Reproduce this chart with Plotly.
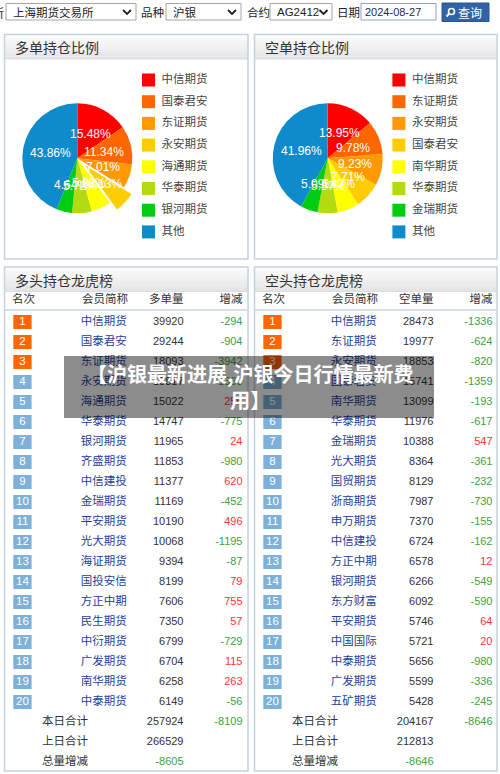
import math
import plotly.graph_objects as go

# ---------------- data ----------------
long_names = ["中信期货", "国泰君安", "东证期货", "永安期货", "海通期货", "华泰期货", "银河期货",
              "齐盛期货", "中信建投", "金瑞期货", "平安期货", "光大期货", "海证期货", "国投安信",
              "方正中期", "民生期货", "中衍期货", "广发期货", "南华期货", "中泰期货"]
long_vol = [39920, 29244, 18093, 15817, 15022, 14747, 11965, 11853, 11377, 11169,
            10190, 10068, 9394, 8199, 7606, 7350, 6799, 6704, 6258, 6149]
long_chg = [-294, -904, -3942, -1360, 256, -775, 24, -980, 620, -452,
            496, -1195, -87, 79, 755, 57, -729, 115, 263, -56]
long_today_total = 257924
long_today_chg = -8109
long_prev_total = 266529
long_total_chg = -8605

short_names = ["中信期货", "东证期货", "永安期货", "国泰君安", "南华期货", "华泰期货", "金瑞期货",
               "光大期货", "国贸期货", "浙商期货", "申万期货", "中信建投", "方正中期", "银河期货",
               "东方财富", "平安期货", "中国国际", "中泰期货", "广发期货", "五矿期货"]
short_vol = [28473, 19977, 18853, 15741, 13099, 11976, 10388, 8364, 8129, 7987,
             7370, 6724, 6578, 6266, 6092, 5746, 5721, 5656, 5599, 5428]
short_chg = [-1336, -624, -820, -1359, -193, -617, 547, -361, -232, -730,
             -155, -162, 12, -549, -590, 64, 20, -980, -336, -245]
short_today_total = 204167
short_today_chg = -8646
short_prev_total = 212813
short_total_chg = -8646

pie_top_n = 7
other_label = "其他"
pie_colors = ["#FF0000", "#FF6600", "#FF9900", "#FFCC00", "#FFFF00", "#B3DA12", "#00CC11", "#0F8BCB"]

title_text = "【沪银最新进展,沪银今日行情最新费<br>用】"

# ---------------- styling constants ----------------
W, H = 500, 774
FONT = "Liberation Sans, Arial, Noto Sans CJK SC, sans-serif"
CJK = "Noto Sans CJK SC, sans-serif"
BORDER = "#C3D2E0"
NAME_C = "#1F3E97"
NUM_C = "#333333"
GREEN = "#3DA23D"
RED = "#FF3333"

fig = go.Figure()
shapes = []
annotations = []


def T(xs, ys, texts, color, pos, size=11, family=FONT):
    return go.Scatter(x=xs, y=ys, text=texts, mode="text", textposition=pos,
                      textfont=dict(color=color, size=size, family=family),
                      hoverinfo="skip", showlegend=False, cliponaxis=False)


def chg_color(v):
    return RED if v > 0 else GREEN


# ---------------- pies ----------------
def pie_data(names, vols):
    labels = names[:pie_top_n] + [other_label]
    values = vols[:pie_top_n] + [sum(vols[pie_top_n:])]
    return labels, values


R = 55
OFFSET = 10  # selected-slice offset in px
pies = [
    (long_names, long_vol, 77.3, [False, False, False, True, False, False, False, False]),
    (short_names, short_vol, 327.7, [False] * 8),
]
cy = 158.3
for names, vols, cx, selected in pies:
    labels, values = pie_data(names, vols)
    pull = [OFFSET / R if s else 0 for s in selected]
    half = R * (1 + max(pull))
    fig.add_trace(go.Pie(
        labels=labels, values=values, sort=False, direction="clockwise", rotation=0,
        marker=dict(colors=pie_colors, line=dict(width=0)), pull=pull,
        textinfo="none",
        domain=dict(x=[(cx - half) / W, (cx + half) / W],
                    y=[1 - (cy + half) / H, 1 - (cy - half) / H]),
        showlegend=False, hoverinfo="skip"))
    # inner labels at half radius along each slice's middle angle
    total = sum(values)
    cum = 0
    for v, s in zip(values, selected):
        mid = 2 * math.pi * (cum + v / 2) / total
        cum += v
        r = R / 2 + (OFFSET if s else 0)
        annotations.append(dict(xref="x", yref="y", x=cx + r * math.sin(mid), y=cy - r * math.cos(mid),
                                text=f"{100 * v / total:.2f}%", showarrow=False,
                                xanchor="center", yanchor="middle",
                                font=dict(family=FONT, size=12, color="white")))

# legends
leg_y = [80 + 21.7 * k for k in range(pie_top_n + 1)]
for names, vols, cx, _ in pies:
    labels, _v = pie_data(names, vols)
    lx = cx + 71.2
    fig.add_trace(go.Scatter(x=[lx] * len(labels), y=leg_y, mode="markers",
                             marker=dict(symbol="square", size=13, color=pie_colors),
                             hoverinfo="skip", showlegend=False))
    fig.add_trace(T([lx + 13] * len(labels), leg_y, labels, "#444444", "middle right", 11.5, CJK))

# ---------------- tables ----------------
row_y = [322 + 20 * i for i in range(20)]
tot_y = [722, 742, 762]
tables = [
    (0, long_names, long_vol, long_chg, "多单量",
     [long_today_total, long_prev_total, long_total_chg], long_today_chg),
    (250, short_names, short_vol, short_chg, "空单量",
     [short_today_total, short_prev_total, short_total_chg], short_today_chg),
]
for off, names, vols, chgs, qlabel, tots, tchg in tables:
    ranks = list(range(1, 21))
    fig.add_trace(go.Bar(orientation="h", y=row_y, x=[18.3] * 20, base=off + 13.3, width=14,
                         marker=dict(color=["#FF6600" if r <= 3 else "#7DB1DA" for r in ranks],
                                     line=dict(width=0)),
                         hoverinfo="skip", showlegend=False))
    fig.add_trace(T([off + 22.5] * 20, row_y, [str(r) for r in ranks], "white", "middle center", 11.5))
    fig.add_trace(T([off + 103.8] * 20, row_y, names, NAME_C, "middle center", 11.5, CJK))
    fig.add_trace(T([off + 183.5] * 20, row_y, [str(v) for v in vols], NUM_C, "middle left", 11))
    fig.add_trace(T([off + 242.5] * 20, row_y, [str(v) for v in chgs],
                    [chg_color(v) for v in chgs], "middle left", 11))
    # header
    fig.add_trace(T([off + 12, off + 82], [300, 300], ["名次", "会员简称"], "#333333", "middle right", 11.5, CJK))
    fig.add_trace(T([off + 183.5, off + 242.5], [300, 300], [qlabel, "增减"], "#333333", "middle left", 11.5, CJK))
    # totals
    fig.add_trace(T([off + 42] * 3, tot_y, ["本日合计", "上日合计", "总量增减"], "#333333", "middle right", 11.5, CJK))
    fig.add_trace(T([off + 183.5] * 3, tot_y, [str(v) for v in tots],
                    [NUM_C, NUM_C, chg_color(tots[2])], "middle left", 11))
    fig.add_trace(T([off + 242.5], [tot_y[0]], [str(tchg)], [chg_color(tchg)], "middle left", 11))


# ---------------- shapes ----------------
def rect(x0, y0, x1, y1, fill=None, line=None, lw=1, layer="below"):
    shapes.append(dict(type="rect", xref="x", yref="y", x0=x0, y0=y0, x1=x1, y1=y1,
                       fillcolor=fill or "rgba(0,0,0,0)",
                       line=dict(color=line or "rgba(0,0,0,0)", width=lw if line else 0),
                       layer=layer))


def header_band(x0, x1, y0, y1):
    n = 10
    for k in range(n):
        c = int(252 - (252 - 228) * k / (n - 1))
        rect(x0, y0 + (y1 - y0) * k / n, x1, y0 + (y1 - y0) * (k + 1) / n,
             fill=f"rgb({c},{c},{c})")


panels = [(4.5, 248, 34.5, 259, "多单持仓比例"), (254.5, 497, 34.5, 259, "空单持仓比例"),
          (4.5, 248, 267, 771, "多头持仓龙虎榜"), (254.5, 497, 267, 771, "空头持仓龙虎榜")]
for x0, x1, y0, y1, title in panels:
    header_band(x0, x1, y0, y0 + 24.5)
    shapes.append(dict(type="line", xref="x", yref="y", x0=x0, x1=x1, y0=y0 + 24.5, y1=y0 + 24.5,
                       line=dict(color="#D8DEE6", width=1), layer="below"))
    rect(x0, y0, x1, y1, line=BORDER, lw=1.5)
    annotations.append(dict(xref="x", yref="y", x=x0 + 8, y=y0 + 12.5, text=title, showarrow=False,
                            xanchor="left", yanchor="middle",
                            font=dict(family=CJK, size=14, color="#333333")))
for x0, x1 in [(4.5, 248), (254.5, 497)]:
    shapes.append(dict(type="line", xref="x", yref="y", x0=x0, x1=x1, y0=310, y1=310,
                       line=dict(color="#C8D6E4", width=1.5), layer="below"))


# ---------------- top bar ----------------
def ann(x, y, text, size=12, color="#222222", anchor="left", family=CJK, weight="normal"):
    annotations.append(dict(xref="x", yref="y", x=x, y=y, text=text, showarrow=False,
                            xanchor=anchor, yanchor="middle",
                            font=dict(family=family, size=size, color=color, weight=weight)))


bar_y = 12
ann(5.5, bar_y, "所", 12, anchor="right")
for x0, x1, label, chev in [(6, 136, "上海期货交易所", 123), (166, 241, "沪银", 228), (270, 332, "AG2412", 319.5)]:
    rect(x0, 3.5, x1, 20, fill="white", line="#A6A6A6", lw=1)
    ann(x0 + 5, bar_y, label, 11.5, family=FONT)
    shapes.append(dict(type="path", xref="x", yref="y",
                       path=f"M {chev},10 L {chev + 4},14 L {chev + 8},10",
                       line=dict(color="#222222", width=1.8), layer="above"))
ann(139, bar_y, "品种", 11.5)
ann(245, bar_y, "合约", 11.5)
ann(335, bar_y, "日期", 11.5)
rect(361, 3.5, 436, 20, fill="white", line="#8EA4C0", lw=1)
ann(362.5, bar_y, "2024-08-27", 11, color="#1A2A55", family=FONT)
rect(442, 3, 489, 21.5, fill="#2F62A6", line="#2A5796", lw=1)
shapes.append(dict(type="circle", xref="x", yref="y", x0=448.5, x1=454.5, y0=8.5, y1=14.5,
                   line=dict(color="white", width=1.6), layer="above"))
shapes.append(dict(type="line", xref="x", yref="y", x0=448.8, x1=446.5, y0=14, y1=16.5,
                   line=dict(color="white", width=2), layer="above"))
ann(470, bar_y + 0.5, "查询", 12, color="white", anchor="center")

# ---------------- overlay title ----------------
rect(64, 356, 434, 418, fill="rgba(0,0,0,0.45)", layer="above")
annotations.append(dict(xref="x", yref="y", x=250, y=386, text=title_text, showarrow=False,
                        xanchor="center", yanchor="middle", align="center",
                        font=dict(family=CJK, size=20, color="white", weight="bold")))

fig.update_layout(
    width=W, height=H, autosize=False,
    margin=dict(l=0, r=0, t=0, b=0),
    paper_bgcolor="white", plot_bgcolor="white",
    barmode="overlay",
    xaxis=dict(range=[0, W], domain=[0, 1], visible=False, fixedrange=True),
    yaxis=dict(range=[H, 0], domain=[0, 1], visible=False, fixedrange=True),
    shapes=shapes, annotations=annotations,
)

fig.write_html("out.html", config={"displayModeBar": False},
               post_script="document.body.style.margin='0px';document.body.style.overflow='hidden';")
